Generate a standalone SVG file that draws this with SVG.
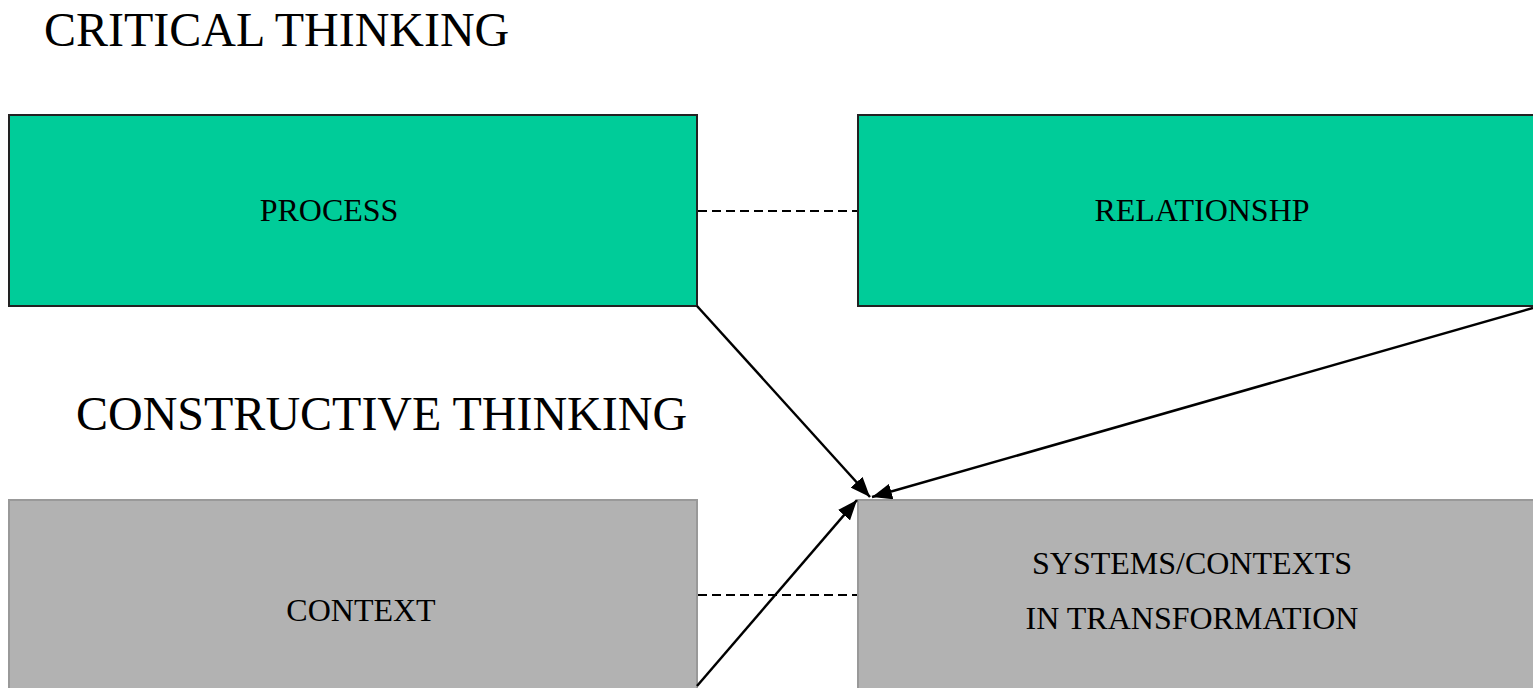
<svg xmlns="http://www.w3.org/2000/svg" width="1533" height="688" viewBox="0 0 1533 688">
<defs>
<style>
.title{font-family:"Liberation Serif","Times New Roman",serif;font-size:48px;fill:#000}
.lbl{font-family:"Liberation Serif","Times New Roman",serif;font-size:32px;fill:#000;text-anchor:middle}
.green{fill:#00CC99;stroke:#222;stroke-width:2}
.gray{fill:#B2B2B2;stroke:#999;stroke-width:2}
.dash{stroke:#000;stroke-width:1.8;stroke-dasharray:9 5;fill:none}
.arr{stroke:#000;stroke-width:2.5;fill:none;marker-end:url(#ah)}
</style>
<marker id="ah" markerUnits="userSpaceOnUse" markerWidth="22" markerHeight="16" refX="20" refY="8" orient="auto">
<path d="M0,0 L20,8 L0,16 Z" fill="#000"/>
</marker>
</defs>
<text class="title" x="44" y="46">CRITICAL THINKING</text>
<text class="title" x="76" y="430">CONSTRUCTIVE THINKING</text>
<g id="process">
<rect class="green" x="9" y="115" width="688" height="191"/>
<text class="lbl" x="329" y="221">PROCESS</text>
</g>
<g id="relationship">
<rect class="green" x="858" y="115" width="680" height="191"/>
<text class="lbl" x="1202" y="221">RELATIONSHP</text>
</g>
<g id="context">
<rect class="gray" x="9" y="500" width="688" height="200"/>
<text class="lbl" x="361" y="621">CONTEXT</text>
</g>
<g id="systems">
<rect class="gray" x="858" y="500" width="680" height="200"/>
<text class="lbl" x="1192" y="574">SYSTEMS/CONTEXTS</text>
<text class="lbl" x="1192" y="629">IN TRANSFORMATION</text>
</g>
<g id="connectors">
<line class="dash" x1="698" y1="211" x2="857" y2="211"/>
<line class="dash" x1="698" y1="595" x2="857" y2="595"/>
<line class="arr" x1="697" y1="306" x2="870" y2="497"/>
<line class="arr" x1="1533" y1="308" x2="872" y2="497"/>
<line class="arr" x1="697" y1="686" x2="857" y2="500"/>
</g>
</svg>
